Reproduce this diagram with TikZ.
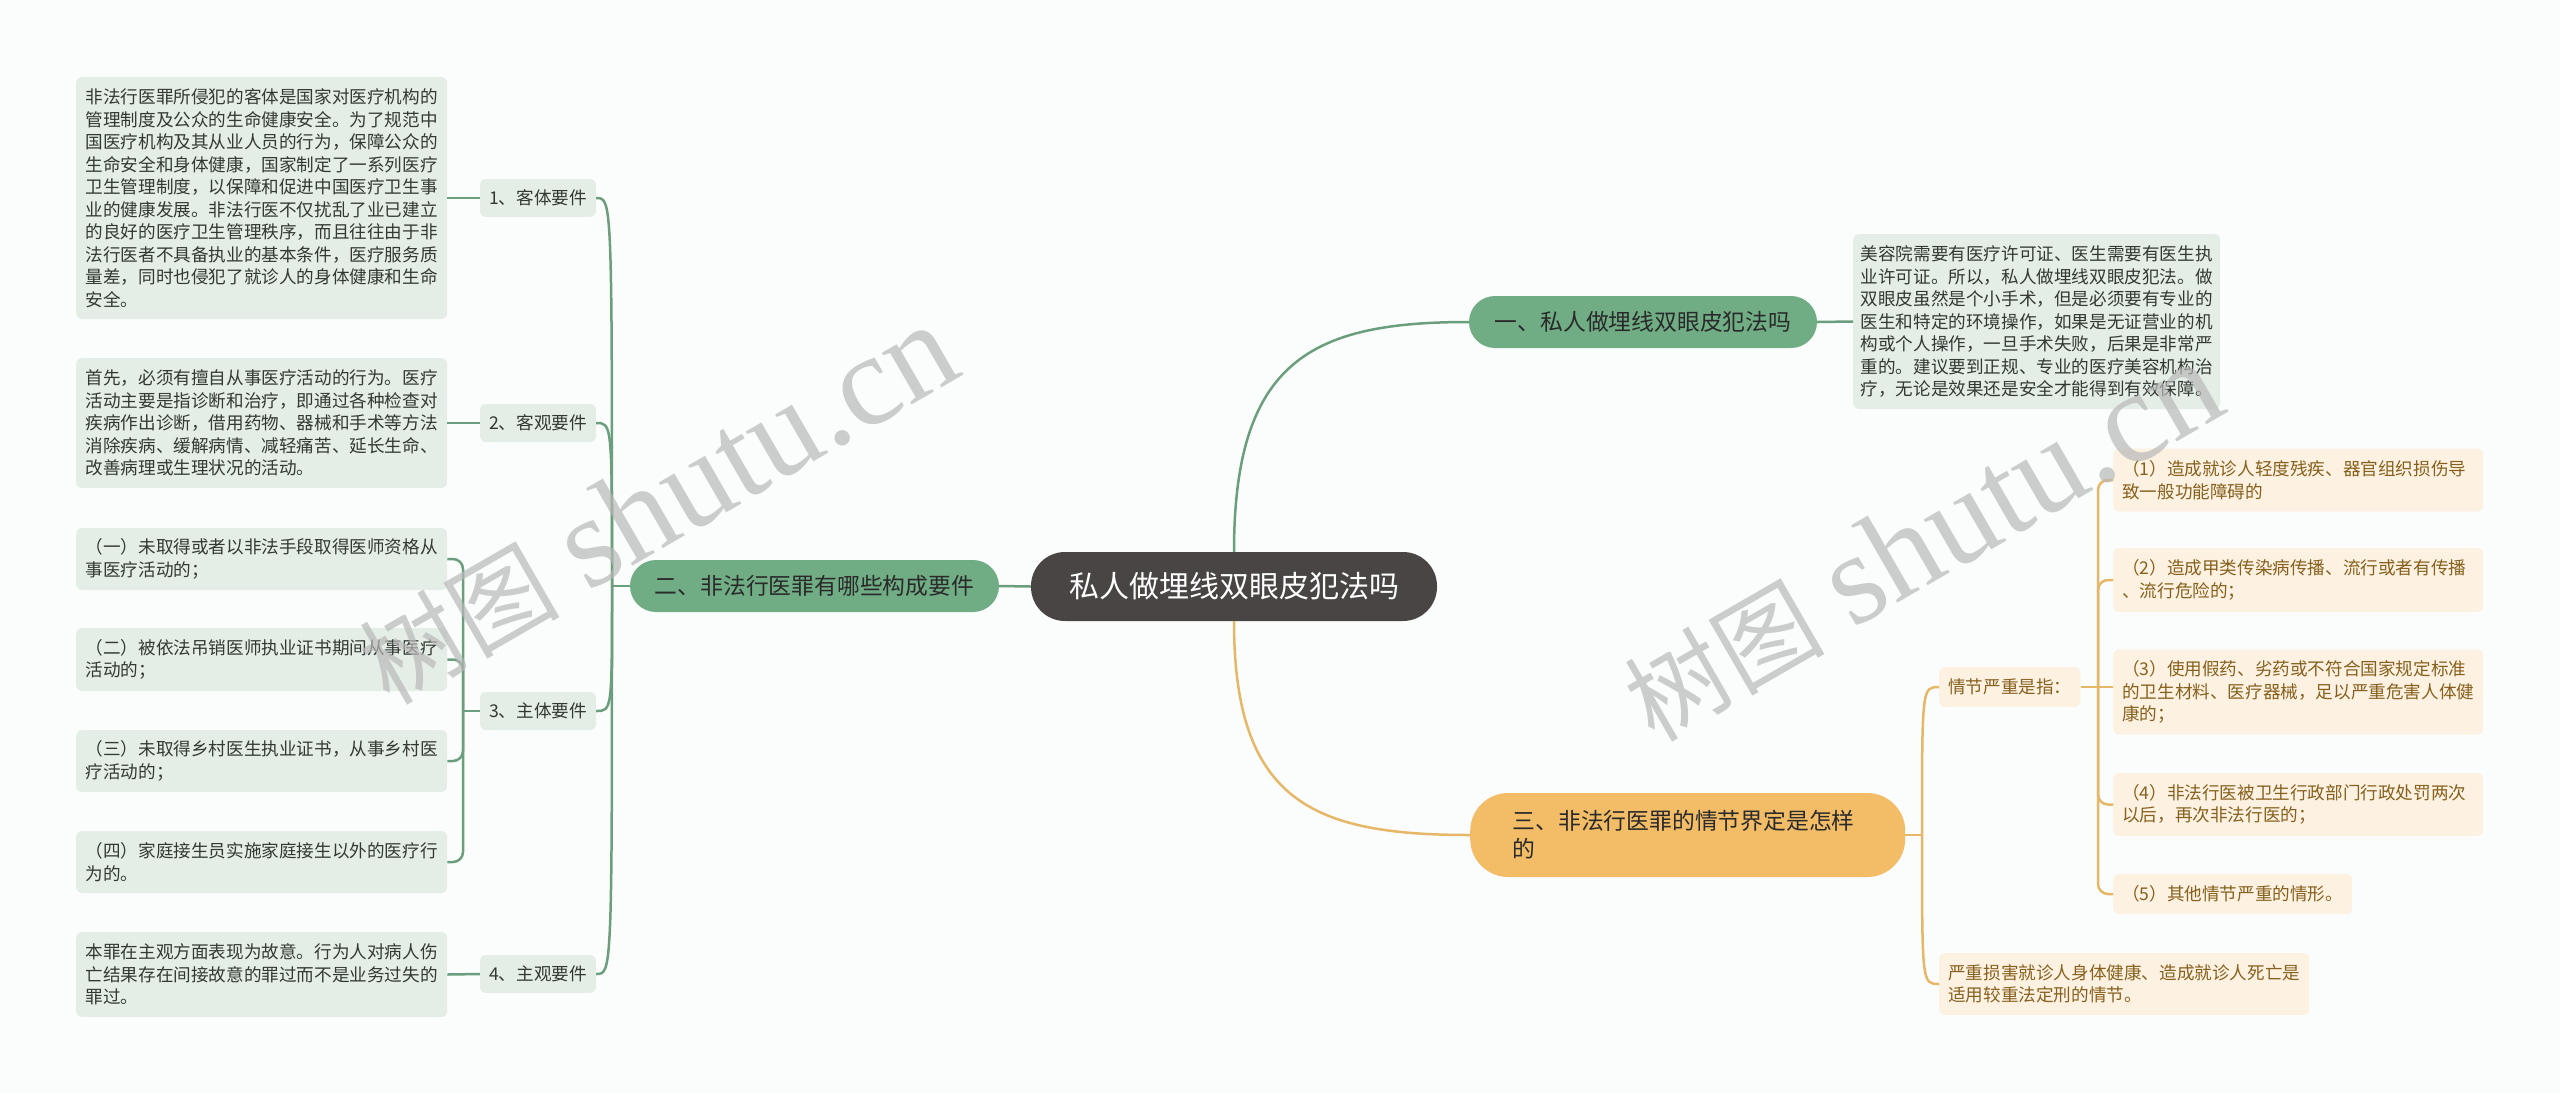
\documentclass[tikz,border=0pt]{standalone}
\usepackage{fontspec}
\newfontfamily\cjk{Noto Sans CJK SC}
\newfontfamily\wmfont{Liberation Serif}
\definecolor{bgc}{HTML}{FBFDFC}
\definecolor{gfill}{HTML}{E4EEE6}
\definecolor{gtext}{HTML}{333833}
\definecolor{gnodec}{HTML}{70AD85}
\definecolor{gline}{HTML}{6B9E7D}
\definecolor{rootc}{HTML}{4A4545}
\definecolor{onodec}{HTML}{F2BD66}
\definecolor{ofill}{HTML}{FDF1E2}
\definecolor{otext}{HTML}{86601C}
\definecolor{oline}{HTML}{E7B768}
\definecolor{ntext}{HTML}{2A2A2A}
\definecolor{wmc}{HTML}{B8B8B8}
\begin{document}
\begin{tikzpicture}[x=1pt,y=-1pt,
  txt/.style={font=\cjk\fontsize{17.6pt}{22.5pt}\selectfont},
  gbox/.style={txt, fill=gfill, text=gtext, rounded corners=6pt, inner xsep=9.5pt, inner ysep=8pt, align=left, text width=352pt, anchor=west},
  glab/.style={txt, fill=gfill, text=gtext, rounded corners=6pt, minimum width=116pt, minimum height=38pt, inner sep=0pt},
  obox/.style={txt, fill=ofill, text=otext, rounded corners=6pt, inner xsep=9pt, inner ysep=8pt, align=left, anchor=west},
  gnode/.style={fill=gnodec, text=ntext, rounded corners=26pt, inner sep=0pt, font=\cjk\fontsize{22.8pt}{28pt}\selectfont},
  gl/.style={draw=gline, line width=2.5pt},
  ol/.style={draw=oline, line width=2.5pt},
  wm/.style={text=wmc, opacity=0.7, rotate=30, inner sep=0pt}]
\fill[bgc] (0,0) rectangle (2560,1093);
\useasboundingbox (0,0) rectangle (2560,1093);

% left branch
\node[gbox, minimum height=242pt] (ta) at (76,198) {非法行医罪所侵犯的客体是国家对医疗机构的\\管理制度及公众的生命健康安全。为了规范中\\国医疗机构及其从业人员的行为，保障公众的\\生命安全和身体健康，国家制定了一系列医疗\\卫生管理制度，以保障和促进中国医疗卫生事\\业的健康发展。非法行医不仅扰乱了业已建立\\的良好的医疗卫生管理秩序，而且往往由于非\\法行医者不具备执业的基本条件，医疗服务质\\量差，同时也侵犯了就诊人的身体健康和生命\\安全。};
\node[glab] (l1) at (538,198) {1、客体要件};
\node[gbox, minimum height=130pt] (tb) at (76,423) {首先，必须有擅自从事医疗活动的行为。医疗\\活动主要是指诊断和治疗，即通过各种检查对\\疾病作出诊断，借用药物、器械和手术等方法\\消除疾病、缓解病情、减轻痛苦、延长生命、\\改善病理或生理状况的活动。};
\node[glab] (l2) at (538,423) {2、客观要件};
\node[gbox, minimum height=62pt] (c1) at (76,559) {（一）未取得或者以非法手段取得医师资格从\\事医疗活动的；};
\node[gbox, minimum height=63pt] (c2) at (76,659.5) {（二）被依法吊销医师执业证书期间从事医疗\\活动的；};
\node[gbox, minimum height=62pt] (c3) at (76,761) {（三）未取得乡村医生执业证书，从事乡村医\\疗活动的；};
\node[gbox, minimum height=62pt] (c4) at (76,862) {（四）家庭接生员实施家庭接生以外的医疗行\\为的。};
\node[glab] (l3) at (538,711) {3、主体要件};
\node[gbox, minimum height=85pt] (td) at (76,974.5) {本罪在主观方面表现为故意。行为人对病人伤\\亡结果存在间接故意的罪过而不是业务过失的\\罪过。};
\node[glab] (l4) at (538,974) {4、主观要件};
\node[gnode, minimum width=369pt, minimum height=52pt] (n2) at (814.5,586) {二、非法行医罪有哪些构成要件};

% root
\node[fill=rootc, text=white, rounded corners=34pt, minimum width=406pt, minimum height=69pt, inner sep=0pt, font=\cjk\fontsize{30pt}{35pt}\selectfont] (root) at (1234,586.5) {私人做埋线双眼皮犯法吗};

% right top branch
\node[gnode, minimum width=348pt, minimum height=52pt] (n1) at (1643,322) {一、私人做埋线双眼皮犯法吗};
\node[gbox, inner xsep=7.5pt, minimum height=175pt] (r1) at (1853,321.5) {美容院需要有医疗许可证、医生需要有医生执\\业许可证。所以，私人做埋线双眼皮犯法。做\\双眼皮虽然是个小手术，但是必须要有专业的\\医生和特定的环境操作，如果是无证营业的机\\构或个人操作，一旦手术失败，后果是非常严\\重的。建议要到正规、专业的医疗美容机构治\\疗，无论是效果还是安全才能得到有效保障。};

% right bottom branch
\node[fill=onodec, text=ntext, rounded corners=38pt, text width=350pt, inner xsep=42.5pt, inner ysep=0pt, minimum height=84pt, align=left, anchor=west, font=\cjk\fontsize{22.8pt}{28pt}\selectfont] (n3) at (1470,835) {三、非法行医罪的情节界定是怎样\\的};
\node[obox, minimum height=40pt] (q) at (1939,687) {情节严重是指：};
\node[obox, text width=352pt, minimum height=63pt] (p1) at (2113,480) {（1）造成就诊人轻度残疾、器官组织损伤导\\致一般功能障碍的};
\node[obox, text width=352pt, minimum height=64pt] (p2) at (2113,580) {（2）造成甲类传染病传播、流行或者有传播\\、流行危险的；};
\node[obox, text width=352pt, minimum height=85pt] (p3) at (2113,692) {（3）使用假药、劣药或不符合国家规定标准\\的卫生材料、医疗器械，足以严重危害人体健\\康的；};
\node[obox, text width=352pt, minimum height=63pt] (p4) at (2113,804.5) {（4）非法行医被卫生行政部门行政处罚两次\\以后，再次非法行医的；};
\node[obox, minimum height=40pt] (p5) at (2113,894) {（5）其他情节严重的情形。};
\node[obox, text width=352pt, minimum height=62pt] (s) at (1939,984) {严重损害就诊人身体健康、造成就诊人死亡是\\适用较重法定刑的情节。};

% connectors left
\coordinate (s2) at (612,586);
\draw[gl] (n2.west) -- (s2);
\draw[gl] (s2) .. controls (s2 |- l1.east) .. (l1.east);
\draw[gl] (s2) .. controls (s2 |- l2.east) .. (l2.east);
\draw[gl] (s2) .. controls (s2 |- l3.east) .. (l3.east);
\draw[gl] (s2) .. controls (s2 |- l4.east) .. (l4.east);
\draw[gl] (ta.east) -- (l1.west);
\draw[gl] (tb.east) -- (l2.west);
\draw[gl] (td.east) -- (l4.west);
\coordinate (s3) at (463,711);
\draw[gl] (l3.west) -- (s3);
\draw[gl, rounded corners=10pt] (s3) |- (c1.east);
\draw[gl, rounded corners=10pt] (s3) |- (c2.east);
\draw[gl, rounded corners=10pt] (s3) |- (c3.east);
\draw[gl, rounded corners=10pt] (s3) |- (c4.east);
\draw[gl] (n2.east) -- (root.west);

% connectors right
\draw[gl] (root.north) .. controls (1234,360) and (1312,322) .. (n1.west);
\draw[gl] (n1.east) -- (r1.west);
\draw[ol] (root.south) .. controls (1234,801) and (1312,835) .. (n3.west);
\coordinate (s4) at (1922,835);
\draw[ol] (n3.east) -- (s4);
\draw[ol] (s4) .. controls (s4 |- q.west) .. (q.west);
\draw[ol] (s4) .. controls (s4 |- s.west) .. (s.west);
\coordinate (s5) at (2098,687);
\draw[ol] (q.east) -- (s5);
\draw[ol, rounded corners=10pt] (s5) |- (p1.west);
\draw[ol, rounded corners=10pt] (s5) |- (p2.west);
\draw[ol] (s5) -- (p3.west |- s5);
\draw[ol, rounded corners=10pt] (s5) |- (p4.west);
\draw[ol, rounded corners=10pt] (s5) |- (p5.west);

% watermarks
\node[wm] (wm1) at (657,505) {{\cjk\fontsize{100pt}{100pt}\selectfont 树图}\hspace{28pt}{\wmfont\fontsize{130pt}{130pt}\selectfont shutu.cn}};
\node[wm] (wm2) at (1922,542) {{\cjk\fontsize{100pt}{100pt}\selectfont 树图}\hspace{28pt}{\wmfont\fontsize{130pt}{130pt}\selectfont shutu.cn}};
\end{tikzpicture}
\end{document}
